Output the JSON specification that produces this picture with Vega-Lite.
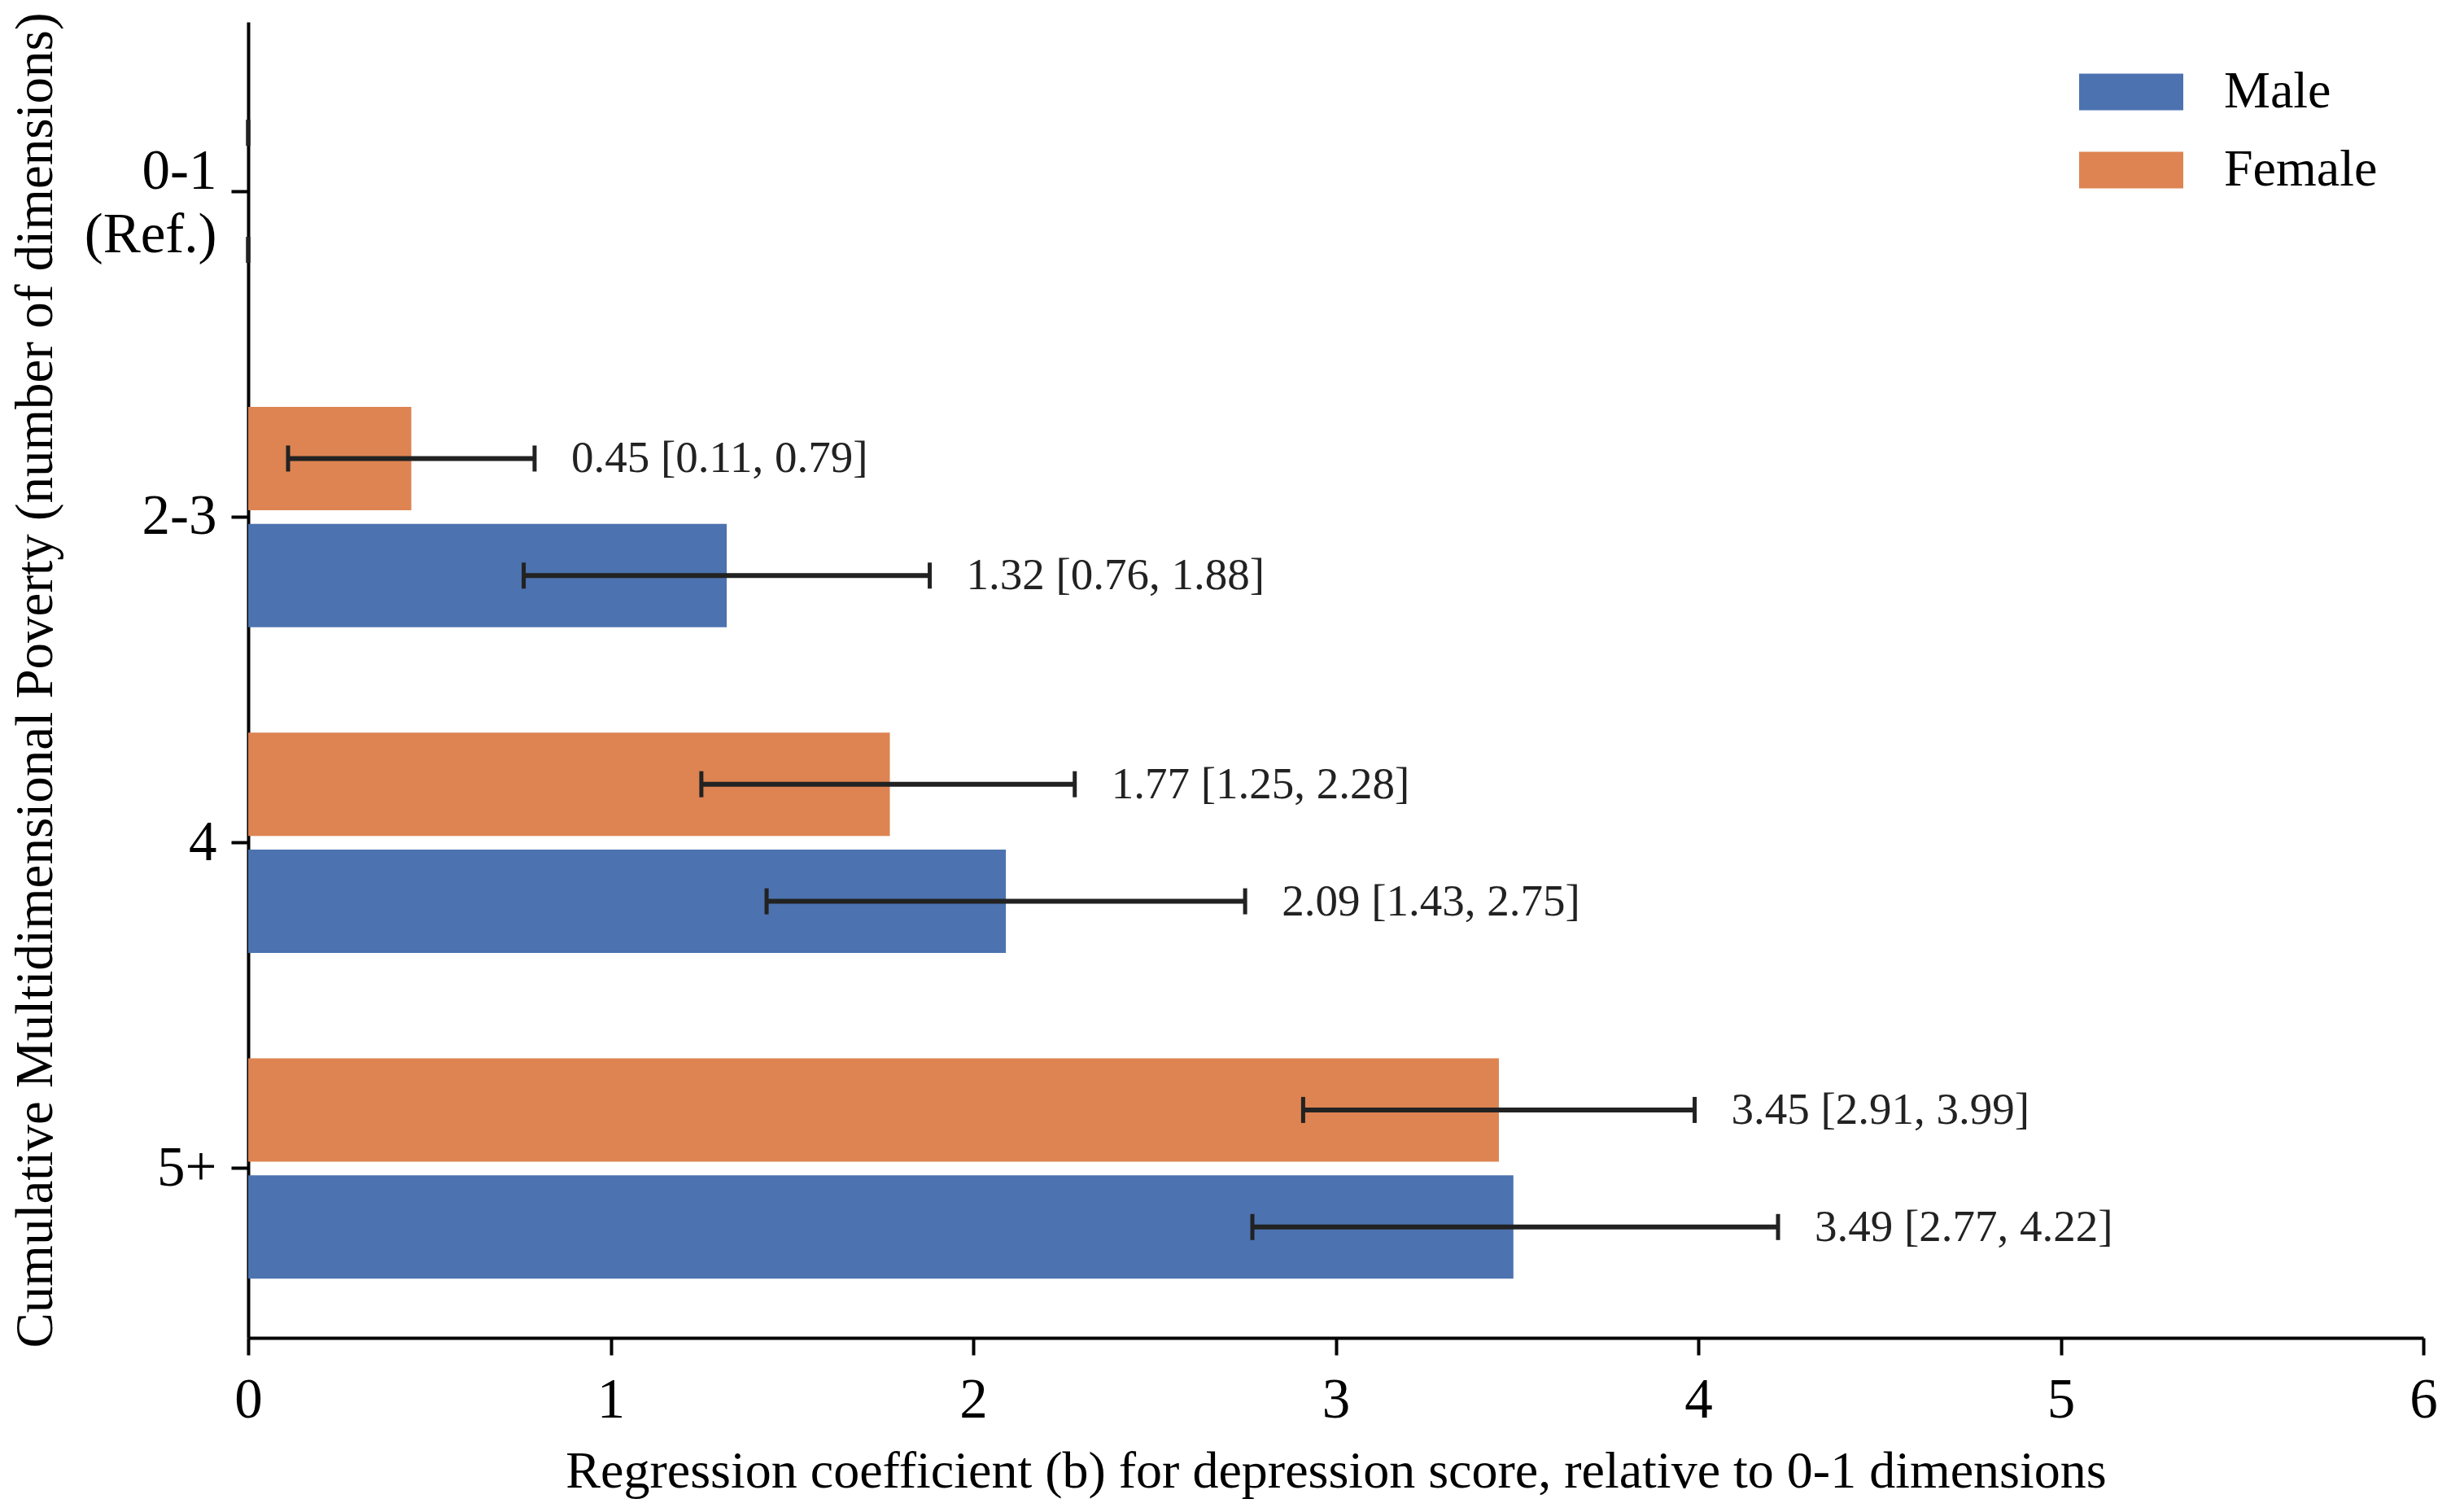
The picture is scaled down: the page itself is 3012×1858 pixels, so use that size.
{
  "$schema": "https://vega.github.io/schema/vega-lite/v6.json",
  "width": 2673,
  "height": 1617,
  "autosize": {"type": "none"},
  "padding": {"left": 305, "top": 27, "right": 34, "bottom": 214},
  "background": "white",
  "config": {
    "view": {"stroke": null},
    "font": "Liberation Serif",
    "axis": {
      "domainColor": "black",
      "domainWidth": 4,
      "tickColor": "black",
      "tickWidth": 4,
      "tickSize": 21,
      "grid": false,
      "labelColor": "black",
      "titleColor": "black",
      "titleFontWeight": "normal",
      "labelFont": "Liberation Serif",
      "titleFont": "Liberation Serif",
      "labelFontSize": 69,
      "titleFontSize": 64
    }
  },
  "data": {
    "values": [
      {"cat": "0-1", "sex": "Male", "b": 0, "lo": 0, "hi": 0, "label": ""},
      {"cat": "0-1", "sex": "Female", "b": 0, "lo": 0, "hi": 0, "label": ""},
      {"cat": "2-3", "sex": "Male", "b": 1.32, "lo": 0.76, "hi": 1.88, "label": "1.32 [0.76, 1.88]"},
      {"cat": "2-3", "sex": "Female", "b": 0.45, "lo": 0.11, "hi": 0.79, "label": "0.45 [0.11, 0.79]"},
      {"cat": "4", "sex": "Male", "b": 2.09, "lo": 1.43, "hi": 2.75, "label": "2.09 [1.43, 2.75]"},
      {"cat": "4", "sex": "Female", "b": 1.77, "lo": 1.25, "hi": 2.28, "label": "1.77 [1.25, 2.28]"},
      {"cat": "5+", "sex": "Male", "b": 3.49, "lo": 2.77, "hi": 4.22, "label": "3.49 [2.77, 4.22]"},
      {"cat": "5+", "sex": "Female", "b": 3.45, "lo": 2.91, "hi": 3.99, "label": "3.45 [2.91, 3.99]"}
    ]
  },
  "encoding": {
    "y": {
      "field": "cat",
      "type": "nominal",
      "sort": ["0-1", "2-3", "4", "5+"],
      "scale": {"paddingInner": 0, "paddingOuter": 0.02},
      "axis": {
        "title": "Cumulative Multidimensional Poverty (number of dimensions)",
        "titleFontSize": 65,
        "labelExpr": "datum.value == '0-1' ? ['0-1', '(Ref.)'] : datum.value",
        "labelLineHeight": 78,
        "labelOffset": {"condition": {"test": "datum.value == '0-1'", "value": -24}, "value": 0},
        "labelPadding": 18,
        "titlePadding": 28
      }
    },
    "yOffset": {
      "field": "sex",
      "type": "nominal",
      "sort": ["Female", "Male"],
      "scale": {"paddingInner": 0.118, "paddingOuter": 0.45}
    }
  },
  "layer": [
    {
      "mark": {"type": "bar"},
      "encoding": {
        "x": {
          "field": "b",
          "type": "quantitative",
          "scale": {"domain": [0, 6], "nice": false},
          "axis": {
            "title": "Regression coefficient (b) for depression score, relative to 0-1 dimensions",
            "values": [0, 1, 2, 3, 4, 5, 6],
            "format": "d",
            "labelFlush": false,
            "labelPadding": 21,
            "titlePadding": 21
          }
        },
        "color": {
          "field": "sex",
          "type": "nominal",
          "scale": {"domain": ["Male", "Female"], "range": ["#4c72b0", "#dd8452"]},
          "legend": {
            "title": null,
            "orient": "none",
            "legendX": 2250,
            "legendY": 22,
            "symbolType": "M-1,-0.3516L1,-0.3516L1,0.3516L-1,0.3516Z",
            "symbolSize": 16384,
            "symbolStrokeWidth": 0,
            "symbolOpacity": 1,
            "labelFontSize": 64,
            "labelFont": "Liberation Serif",
            "labelColor": "black",
            "labelLimit": 0,
            "labelOffset": 50,
            "rowPadding": -38,
            "padding": 0
          }
        }
      }
    },
    {
      "mark": {"type": "rule", "color": "#222222", "strokeWidth": 6},
      "encoding": {
        "x": {"field": "lo", "type": "quantitative"},
        "x2": {"field": "hi"}
      }
    },
    {
      "mark": {"type": "tick", "color": "#222222", "thickness": 5, "size": 32, "opacity": 1},
      "encoding": {
        "x": {"field": "lo", "type": "quantitative"}
      }
    },
    {
      "mark": {"type": "tick", "color": "#222222", "thickness": 5, "size": 32, "opacity": 1},
      "encoding": {
        "x": {"field": "hi", "type": "quantitative"}
      }
    },
    {
      "mark": {"type": "text", "align": "left", "baseline": "middle", "dx": 45, "fontSize": 55, "color": "#222222", "font": "Liberation Serif"},
      "encoding": {
        "x": {"field": "hi", "type": "quantitative"},
        "text": {"field": "label"}
      }
    }
  ]
}
